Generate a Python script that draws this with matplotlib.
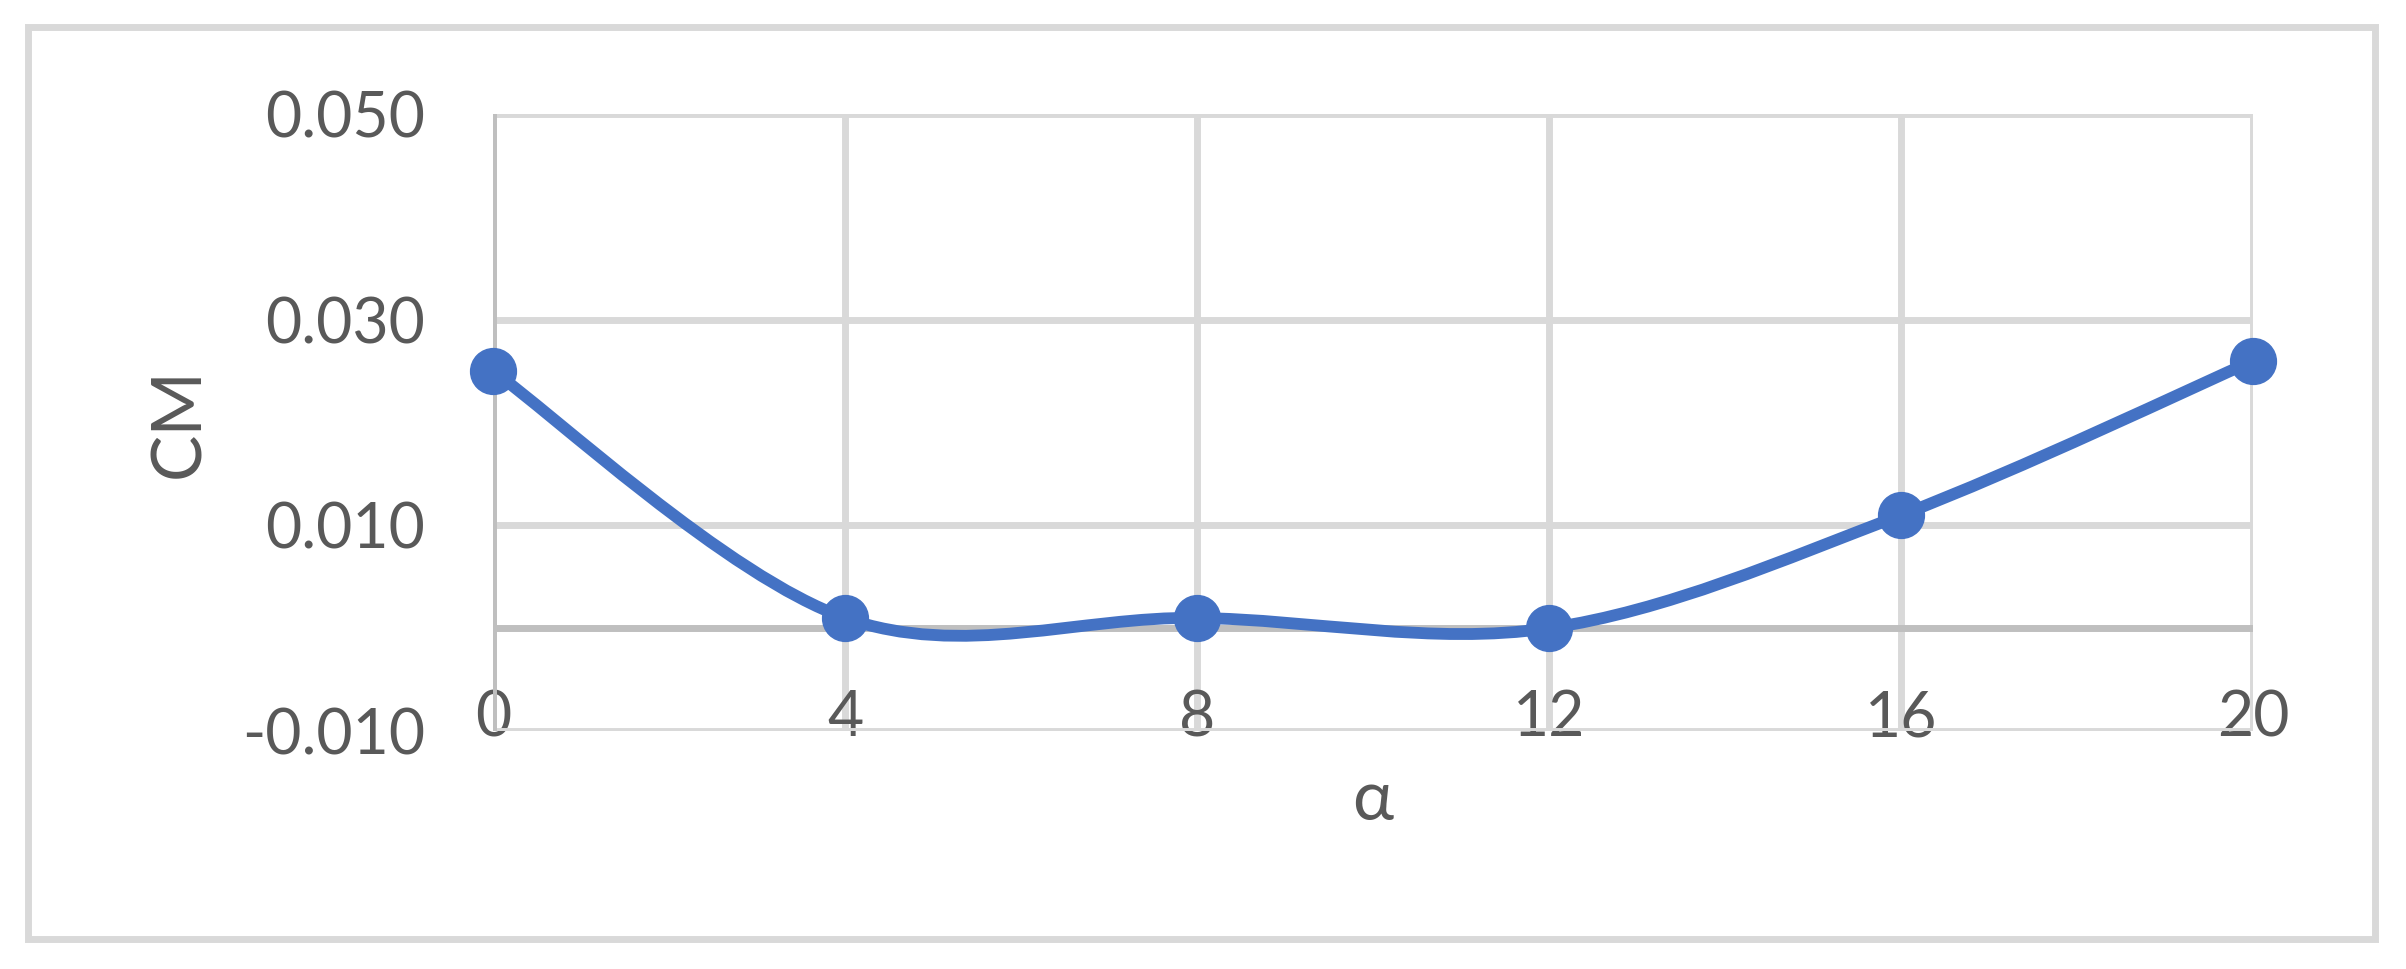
import matplotlib.pyplot as plt
from matplotlib.path import Path
from matplotlib.patches import PathPatch, Rectangle

# data
alpha = [0, 4, 8, 12, 16, 20]
cm = [0.025, 0.001, 0.001, 0.000, 0.011, 0.026]

x_ticks = [0, 4, 8, 12, 16, 20]
y_ticks = [-0.010, 0.010, 0.030, 0.050]
y_tick_labels = ["-0.010", "0.010", "0.030", "0.050"]

blue = "#4472C4"
grid_c = "#D9D9D9"
axis_c = "#BFBFBF"
text_c = "#595959"

plt.rcParams['font.family'] = ['Lato', 'DejaVu Sans']


def smooth_path(xs, ys):
    """Excel-like smoothed line: cubic bezier through every point."""
    n = len(xs)
    verts = [(xs[0], ys[0])]
    codes = [Path.MOVETO]
    for i in range(n - 1):
        x0, y0 = xs[max(i - 1, 0)], ys[max(i - 1, 0)]
        x1, y1 = xs[i], ys[i]
        x2, y2 = xs[i + 1], ys[i + 1]
        x3, y3 = xs[min(i + 2, n - 1)], ys[min(i + 2, n - 1)]
        verts += [(x1 + (x2 - x0) / 6, y1 + (y2 - y0) / 6),
                  (x2 - (x3 - x1) / 6, y2 - (y3 - y1) / 6),
                  (x2, y2)]
        codes += [Path.CURVE4] * 3
    return Path(verts, codes)


fig = plt.figure(figsize=(24.06, 9.69), dpi=100)
fig.patches.append(Rectangle((0.0116, 0.031), 0.9755, 0.9412, transform=fig.transFigure,
                             fill=False, edgecolor=grid_c, linewidth=5))

ax = fig.add_axes([0.2049, 0.2456, 0.7315, 0.6367])
ax.set_xlim(0, 20)
ax.set_ylim(-0.010, 0.050)

ax.set_xticks(x_ticks)
ax.set_yticks(y_ticks)
ax.set_yticklabels(y_tick_labels)
ax.grid(True, color=grid_c, linewidth=5)
ax.set_axisbelow(True)
for s in ax.spines.values():
    s.set_visible(False)

ax.axhline(0, color=axis_c, linewidth=5, zorder=1)
ax.axvline(0, color=axis_c, linewidth=5, zorder=1)

ax.tick_params(axis='both', length=0, labelsize=45, labelcolor=text_c)
ax.tick_params(axis='y', pad=49)
ax.tick_params(axis='x', pad=-30)

ax.add_patch(PathPatch(smooth_path(alpha, cm), fill=False, edgecolor=blue,
                       linewidth=8.5, capstyle='round', zorder=3, clip_on=False))
ax.plot(alpha, cm, 'o', color=blue, markersize=33, zorder=4, clip_on=False)

ax.set_xlabel("α", fontsize=50, color=text_c, va='center')
ax.set_ylabel("CM", fontsize=50, color=text_c, va='center')
ax.xaxis.set_label_coords(0.5, -0.112)
ax.yaxis.set_label_coords(-0.178, 0.5)

fig.savefig("out.png", dpi=100)
